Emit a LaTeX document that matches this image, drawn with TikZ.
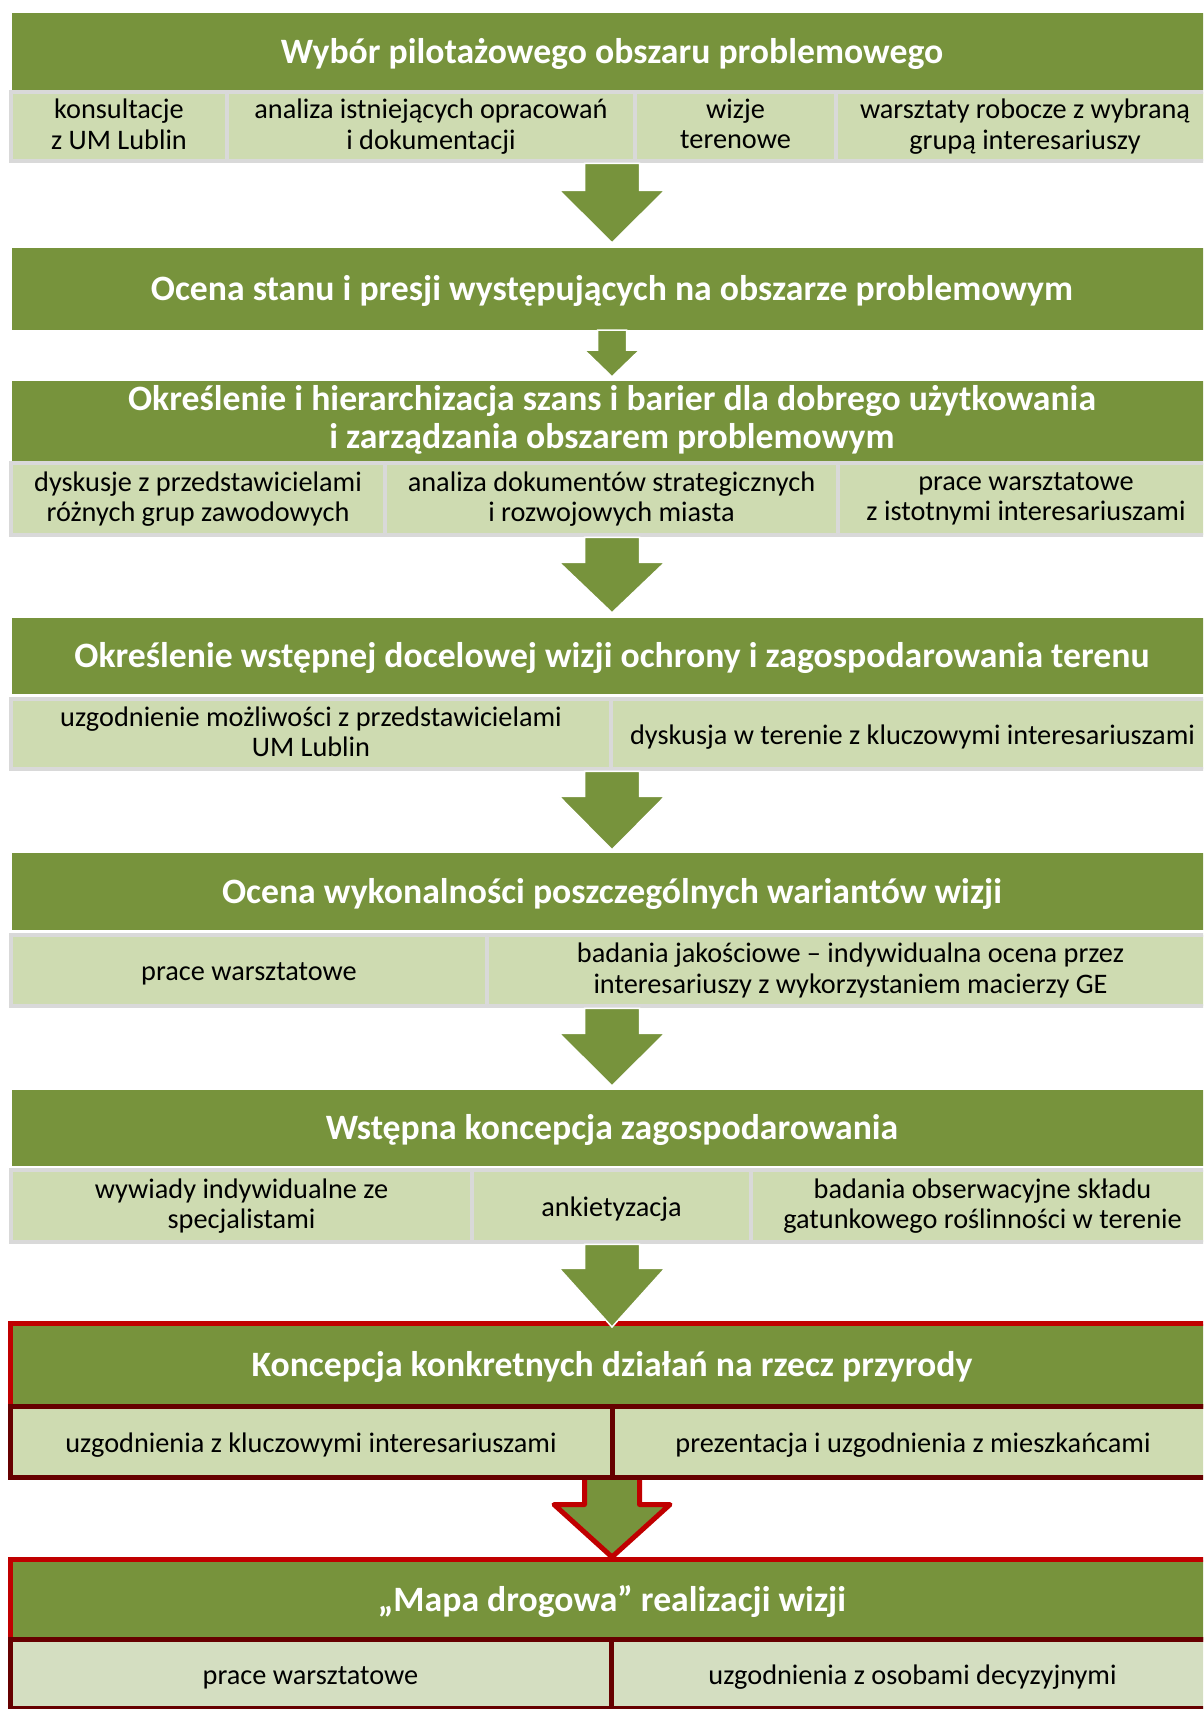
\documentclass[tikz,border=0pt]{standalone}
\usepackage{fontspec}
\setmainfont{Carlito}
\usetikzlibrary{calc}
\definecolor{hgreen}{HTML}{77933C}
\definecolor{lgreen}{HTML}{CEDBB1}
\definecolor{lgreenB}{HTML}{D4DEC1}
\definecolor{lgray}{HTML}{D9D9D9}
\definecolor{redb}{HTML}{C00000}
\definecolor{darkredb}{HTML}{660000}
\newcommand\hdrfont{\fontsize{35.7}{38}\selectfont\bfseries}
\newcommand\boxfont{\fontsize{28.3}{30.5}\selectfont}
\newcommand\hstrut{\rule[-7.4pt]{0pt}{38pt}}
\newcommand\bstrut{\rule[-5.15pt]{0pt}{30.5pt}}
\newcommand\garrow[6]{%
  \path[arrowfill] let \p1=(#1.south), \p2=(#2.north) in
  ({612pt-#3pt},{\y1}) -- ({612pt-#3pt},{\y1-#5pt}) -- ({612pt-#4pt},{\y1-#5pt}) --
  ({612pt},{\y2+(#6pt)}) -- ({612pt+#4pt},{\y1-#5pt}) -- ({612pt+#3pt},{\y1-#5pt}) --
  ({612pt+#3pt},{\y1}) -- cycle;}
\begin{document}
\begin{tikzpicture}[x=1pt,y=-1pt,
  hdr/.style={fill=hgreen, text=white, font=\hdrfont, inner sep=0pt, align=center, minimum width=1200pt,
    execute at begin node=\hstrut, execute at end node=\hstrut},
  hdrred/.style={hdr, draw=redb, line width=5pt, minimum width=1204pt},
  lbox/.style={fill=lgreen, draw=lgray, line width=4.5pt, inner sep=0pt, align=center, font=\boxfont, text=black,
    execute at begin node=\bstrut, execute at end node=\bstrut},
  rbox/.style={lbox, draw=darkredb, line width=5pt},
  arrowfill/.style={fill=hgreen, draw=white, line width=1.5pt, line join=miter}]
\useasboundingbox (0,0) rectangle (1203,1709);
\clip (0,0) rectangle (1203,1709);

% headers
\node[hdr, minimum height=77pt] (h1) at (612,51.5) {Wybór pilotażowego obszaru problemowego};
\node[hdr, minimum height=82pt] (h2) at (612,289) {Ocena stanu i presji występujących na obszarze problemowym};
\node[hdr, minimum height=80pt] (h3) at (612,421) {Określenie i hierarchizacja szans i barier dla dobrego użytkowania\\ i zarządzania obszarem problemowym};
\node[hdr, minimum height=76pt] (h4) at (612,656) {Określenie wstępnej docelowej wizji ochrony i zagospodarowania terenu};
\node[hdr, minimum height=77pt] (h5) at (612,891.5) {Ocena wykonalności poszczególnych wariantów wizji};
\node[hdr, minimum height=76pt] (h6) at (612,1128) {Wstępna koncepcja zagospodarowania};
\node[hdrred, minimum height=83pt] (h7) at (612,1365) {Koncepcja konkretnych działań na rzecz przyrody};
\node[hdrred, minimum height=80pt] (h8) at (612,1599.5) {„Mapa drogowa” realizacji wizji};

% row 1
\node[lbox, minimum width=216pt, minimum height=69pt] (r1a) at (119,126.5) {konsultacje\\ z UM Lublin};
\node[lbox, minimum width=408pt, minimum height=69pt] (r1b) at (431,126.5) {analiza istniejących opracowań\\ i dokumentacji};
\node[lbox, minimum width=201pt, minimum height=69pt] (r1c) at (735.5,126.5) {wizje\\ terenowe};
\node[lbox, minimum width=378pt, minimum height=69pt] (r1d) at (1025,126.5) {warsztaty robocze z wybraną\\ grupą interesariuszy};

% row 3
\node[lbox, minimum width=374pt, minimum height=72pt] (r3a) at (198,499) {dyskusje z przedstawicielami\\ różnych grup zawodowych};
\node[lbox, minimum width=453pt, minimum height=72pt] (r3b) at (611.5,499) {analiza dokumentów strategicznych\\ i rozwojowych miasta};
\node[lbox, minimum width=376pt, minimum height=72pt] (r3c) at (1026,499) {prace warsztatowe\\ z istotnymi interesariuszami};

% row 4
\node[lbox, minimum width=600pt, minimum height=70pt] (r4a) at (311,734) {uzgodnienie możliwości z przedstawicielami\\ UM Lublin};
\node[lbox, minimum width=603pt, minimum height=70pt] (r4b) at (912.5,734) {dyskusja w terenie z kluczowymi interesariuszami};

% row 5
\node[lbox, minimum width=476pt, minimum height=71pt] (r5a) at (249,970.5) {prace warsztatowe};
\node[lbox, minimum width=727pt, minimum height=71pt] (r5b) at (850.5,970.5) {badania jakościowe – indywidualna ocena przez\\ interesariuszy z wykorzystaniem macierzy GE};

% row 6
\node[lbox, minimum width=461pt, minimum height=72pt] (r6a) at (241.5,1206) {wywiady indywidualne ze\\ specjalistami};
\node[lbox, minimum width=279pt, minimum height=72pt] (r6b) at (611.5,1206) {ankietyzacja};
\node[lbox, minimum width=463pt, minimum height=72pt] (r6c) at (982.5,1206) {badania obserwacyjne składu\\ gatunkowego roślinności w terenie};

% row 7
\node[rbox, minimum width=602pt, minimum height=71pt] (r7a) at (311,1442) {uzgodnienia z kluczowymi interesariuszami};
\node[rbox, minimum width=602pt, minimum height=71pt] (r7b) at (913,1442) {prezentacja i uzgodnienia z mieszkańcami};

% row 8
\node[rbox, fill=lgreenB, minimum width=601pt, minimum height=69pt] (r8a) at (310.5,1674) {prace warsztatowe};
\node[rbox, fill=lgreenB, minimum width=603pt, minimum height=69pt] (r8b) at (912.5,1674) {uzgodnienia z osobami decyzyjnymi};

% block arrows
\garrow{r1b}{h2}{27.5}{53}{27}{5}
\garrow{h2}{h3}{14.5}{27.5}{20}{4}
\garrow{r3b}{h4}{27.5}{53}{25}{5}
\garrow{r4a}{h5}{27.5}{53}{25}{3}
\garrow{r5a}{h6}{27.5}{53}{25}{4}
\garrow{r6b}{h7}{27.5}{53}{24}{-6}

% red-outlined arrow
\fill[hgreen] let \p1=(r7a.south), \p2=(h8.north) in
  ({612pt-27.5pt},{\y1}) -- ({612pt-27.5pt},{\y1-24.5pt}) -- ({612pt-58pt},{\y1-24.5pt}) --
  ({612pt},{\y2}) -- ({612pt+58pt},{\y1-24.5pt}) -- ({612pt+27.5pt},{\y1-24.5pt}) --
  ({612pt+27.5pt},{\y1}) -- cycle;
\draw[redb, line width=5pt, line join=round] let \p1=(r7a.south), \p2=(h8.north) in
  ({612pt-27.5pt},{\y1}) -- ({612pt-27.5pt},{\y1-24.5pt}) -- ({612pt-58pt},{\y1-24.5pt}) --
  ({612pt},{\y2}) -- ({612pt+58pt},{\y1-24.5pt}) -- ({612pt+27.5pt},{\y1-24.5pt}) --
  ({612pt+27.5pt},{\y1});
\end{tikzpicture}
\end{document}
